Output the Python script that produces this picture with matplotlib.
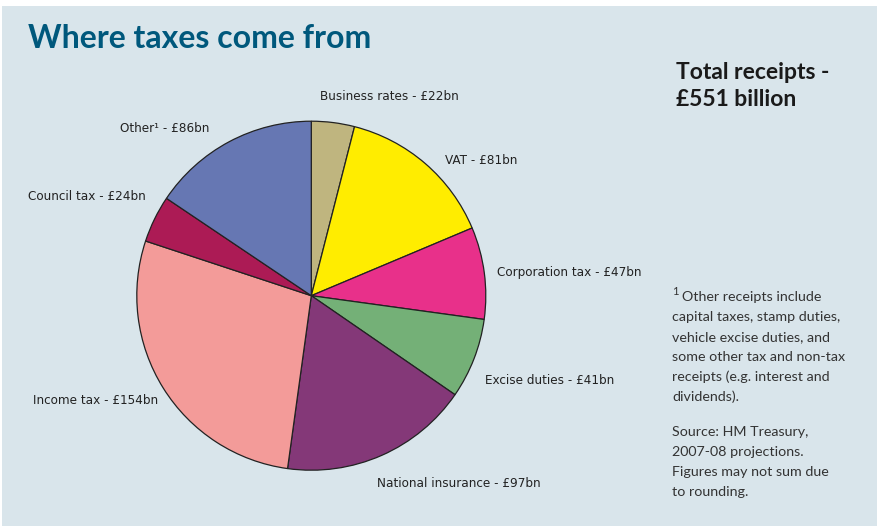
import matplotlib.pyplot as plt
from matplotlib.patches import Rectangle

# slices, clockwise from 12 o'clock
labels = ['Business rates - £22bn', 'VAT - £81bn', 'Corporation tax - £47bn',
          'Excise duties - £41bn', 'National insurance - £97bn',
          'Income tax - £154bn', 'Council tax - £24bn', 'Other\u00b9 - £86bn']
values = [22, 81, 47, 41, 97, 154, 24, 86]
colors = ['#bfb57f', '#ffed00', '#e8308a', '#74b077', '#843878',
          '#f39b99', '#ac1b55', '#6677b3']

title = 'Where taxes come from'
total_text = 'Total receipts -\n£551 billion'
note_lines = ['Other receipts include', 'capital taxes, stamp duties,',
              'vehicle excise duties, and', 'some other tax and non-tax',
              'receipts (e.g. interest and', 'dividends).']
source_lines = ['Source: HM Treasury,', '2007-08 projections.',
                'Figures may not sum due', 'to rounding.']

W, H = 878, 526
fig = plt.figure(figsize=(W / 100, H / 100), dpi=100, facecolor='white')
ax = fig.add_axes([0, 0, 1, 1])

ax.add_patch(Rectangle((2, 0), W - 2, H - 6, facecolor='#d9e5eb',
                       edgecolor='none', zorder=0))

ax.pie(values, colors=colors, startangle=90, counterclock=False,
       center=(311.3, H - 295.7), radius=174.5,
       wedgeprops=dict(edgecolor='#222222', linewidth=0.9), frame=True)
ax.set_xlim(0, W)
ax.set_ylim(0, H)
ax.set_aspect('equal')
ax.axis('off')

# label positions (left x, centre y in pixels from top)
label_pos = [(320, 96), (445, 160), (497, 272), (485, 380),
             (377, 484), (33, 401), (28, 196), (120, 128)]
for lab, (x, y) in zip(labels, label_pos):
    ax.text(x, H - y, lab, fontsize=9.6, family='DejaVu Sans',
            fontstretch='condensed', color='#222222',
            ha='left', va='center')

ax.text(28, H - 38, title, fontsize=23, fontweight='bold', family='Lato',
        color='#00587c', ha='left', va='center')

ax.text(676, H - 86, total_text, fontsize=16.5, fontweight='bold',
        family='Lato', color='#1a1a1a', ha='left', va='center',
        linespacing=1.3)

ax.text(672, H - 291, '1', fontsize=8, family='Lato', color='#333333',
        ha='left', va='center')
ax.text(682, H - 297, note_lines[0], fontsize=10.3, family='Lato',
        color='#333333', ha='left', va='center')
for i, line in enumerate(note_lines[1:], start=1):
    ax.text(672, H - (297 + 20 * i), line, fontsize=10.3, family='Lato',
            color='#333333', ha='left', va='center')
for i, line in enumerate(source_lines):
    ax.text(672, H - (432 + 20 * i), line, fontsize=10.3, family='Lato',
            color='#333333', ha='left', va='center')

fig.savefig('out.png', dpi=100, facecolor='white')
